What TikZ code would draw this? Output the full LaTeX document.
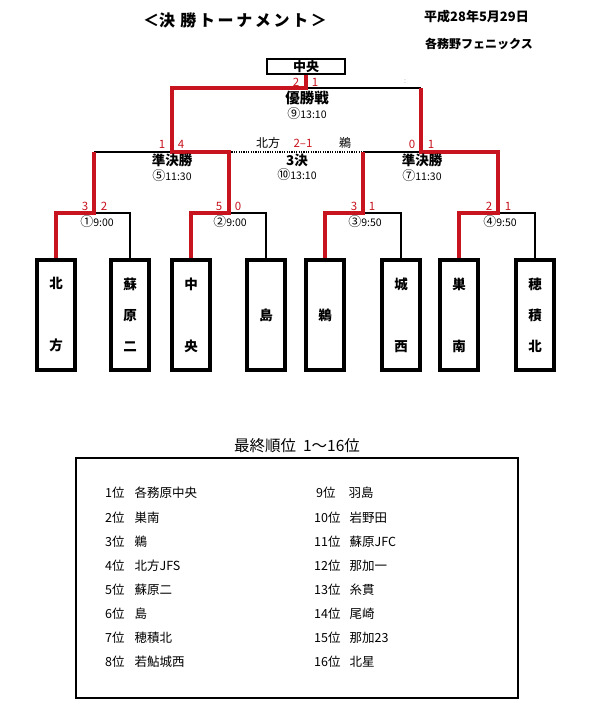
\documentclass[tikz,border=0pt]{standalone}
\usepackage{fontspec}
\setmainfont{Noto Sans CJK JP}
\definecolor{brkred}{RGB}{200,20,30}
\newcommand\cnumx[1]{{\fontsize{13}{13}\selectfont #1}}
\begin{document}
\begin{tikzpicture}[x=1pt,y=-1pt,
  team/.style={draw=black, line width=3.5pt, minimum width=38pt, minimum height=110pt, inner sep=0pt, align=center, font=\bfseries\fontsize{13.5}{31}\selectfont},
  win/.style={draw=brkred, line width=3.2pt, line join=miter},
  lose/.style={draw=black, line width=2.5pt, line join=miter},
  sc/.style={text=brkred, inner sep=0pt, font=\fontsize{11.5}{11.5}\selectfont},
  mtitle/.style={inner sep=0pt, font=\bfseries\fontsize{13.5}{13.5}\selectfont},
  mtime/.style={inner sep=0pt, font=\fontsize{10.5}{10.5}\selectfont},
  rk/.style={inner sep=0pt, anchor=west, font=\fontsize{12.5}{12.5}\selectfont}
]
\useasboundingbox[fill=white] (0,0) rectangle (590,705);

% header
\node[inner sep=0pt, font=\bfseries\fontsize{16}{16}\selectfont] (title) at (235,20) {＜決\,\,勝\,ト\,ー\,ナ\,メ\,ン\,ト\,＞};
\node[inner sep=0pt, anchor=west, font=\bfseries\fontsize{13}{13}\selectfont] (date) at (424,17) {平成28年5月29日};
\node[inner sep=0pt, anchor=west, font=\bfseries\fontsize{12}{12}\selectfont] (club) at (425,44) {各務野フェニックス};

% champion
\node[draw=black, line width=2.2pt, minimum width=78pt, minimum height=15pt, inner sep=0pt, font=\bfseries\fontsize{13}{13}\selectfont] (champ) at (306,66.5) {中央};

% teams
\node[team] (t1) at (56,315) {北\\[31pt]方};
\node[team] (t2) at (130,315) {蘇\\原\\二};
\node[team] (t3) at (191,315) {中\\[31pt]央};
\node[team] (t4) at (266,315) {島};
\node[team] (t5) at (325,315) {鵜};
\node[team] (t6) at (401,315) {城\\[31pt]西};
\node[team] (t7) at (459,315) {巣\\[31pt]南};
\node[team] (t8) at (535,315) {穂\\積\\北};

% junctions
\coordinate (q1) at (94,213);
\coordinate (q2) at (229,213);
\coordinate (q3) at (363,213);
\coordinate (q4) at (498,213);
\coordinate (s1) at (172,152);
\coordinate (s2) at (421,152);
\coordinate (f) at (306,88);

% losing lines
\draw[lose] (t2.north) |- (q1);
\draw[lose] (t4.north) |- (q2);
\draw[lose] (t6.north) |- (q3);
\draw[lose] (t8.north) |- (q4);
\draw[lose] (q1 |- s1) -- (s1);
\draw[lose] (q3 |- s2) -- (s2);
\draw[lose] (f) -- (s2 |- f);
\draw[black, line width=1.3pt, dash pattern=on 1.2pt off 1.2pt] (q2 |- s1) -- (q3 |- s2);

% winning lines
\draw[win] (t1.north) |- (q1) -- (q1 |- s1);
\draw[win] (t3.north) |- (q2) -- (q2 |- s1) -- (s1) -- (s1 |- f) -- (f) -- (champ.south);
\draw[win] (t5.north) |- (q3) -- (q3 |- s2);
\draw[win] (t7.north) |- (q4) -- (q4 |- s2) -- (s2) -- (s2 |- f);

% scores
\node[sc] (fa) at (296,82) {2};
\node[sc] (fb) at (315,82) {1};
\node[inner sep=0pt, text=gray, font=\fontsize{7}{7}\selectfont] (mark) at (405,82) {:};
\node[sc] (sa1) at (162,144) {1};
\node[sc] (sa2) at (181,144) {4};
\node[sc] (sb1) at (412,144) {0};
\node[sc] (sb2) at (431,144) {1};
\node[sc] (qa1) at (85,206) {3};
\node[sc] (qa2) at (104,206) {2};
\node[sc] (qb1) at (219,206) {5};
\node[sc] (qb2) at (238,206) {0};
\node[sc] (qc1) at (354,206) {3};
\node[sc] (qc2) at (372,206) {1};
\node[sc] (qd1) at (489,206) {2};
\node[sc] (qd2) at (508,206) {1};

% match labels
\node[mtitle, font=\bfseries\fontsize{14.5}{14.5}\selectfont] (fname) at (307,98) {優勝戦};
\node[mtime] (ftime) at (307,114) {\cnumx{⑨}13:10};
\node[mtitle] (s1name) at (172,160) {準決勝};
\node[mtime] (s1time) at (172,176) {\cnumx{⑤}11:30};
\node[mtitle] (s2name) at (422,160) {準決勝};
\node[mtime] (s2time) at (422,176) {\cnumx{⑦}11:30};
\node[mtitle] (tname) at (297,160) {3決};
\node[mtime] (ttime) at (297,175) {\cnumx{⑩}13:10};
\node[inner sep=0pt, font=\fontsize{12}{12}\selectfont] (tl) at (268,143) {北方};
\node[sc] (tsc) at (303,143) {2–1};
\node[inner sep=0pt, font=\fontsize{12}{12}\selectfont] (tr) at (345,143) {鵜};
\node[mtime] (m1) at (97,222) {\cnumx{①}9:00};
\node[mtime] (m2) at (230,222) {\cnumx{②}9:00};
\node[mtime] (m3) at (365,222) {\cnumx{③}9:50};
\node[mtime] (m4) at (500,222) {\cnumx{④}9:50};

% ranking
\node[inner sep=0pt, font=\fontsize{15.5}{15.5}\selectfont] (rtitle) at (297,446) {最終順位\ \ 1～16位};
\node[draw=black, line width=2.3pt, inner sep=0pt, minimum width=442pt, minimum height=240pt] (rbox) at (297,578) {};
\node[rk] (r1) at (105,493) {1位\hspace{10pt}各務原中央};
\node[rk] (r2) at (105,518) {2位\hspace{10pt}巣南};
\node[rk] (r3) at (105,542) {3位\hspace{10pt}鵜};
\node[rk] (r4) at (105,566) {4位\hspace{10pt}北方JFS};
\node[rk] (r5) at (105,590) {5位\hspace{10pt}蘇原二};
\node[rk] (r6) at (105,614) {6位\hspace{10pt}島};
\node[rk] (r7) at (105,638) {7位\hspace{10pt}穂積北};
\node[rk] (r8) at (105,662) {8位\hspace{10pt}若鮎城西};
\node[rk] (r9) at (316,493) {9位\hspace{13pt}羽島};
\node[rk] (r10) at (314,518) {10位\hspace{9pt}岩野田};
\node[rk] (r11) at (314,542) {11位\hspace{9pt}蘇原JFC};
\node[rk] (r12) at (314,566) {12位\hspace{9pt}那加一};
\node[rk] (r13) at (314,590) {13位\hspace{9pt}糸貫};
\node[rk] (r14) at (314,614) {14位\hspace{9pt}尾崎};
\node[rk] (r15) at (314,638) {15位\hspace{9pt}那加23};
\node[rk] (r16) at (314,662) {16位\hspace{9pt}北星};
\end{tikzpicture}
\end{document}
